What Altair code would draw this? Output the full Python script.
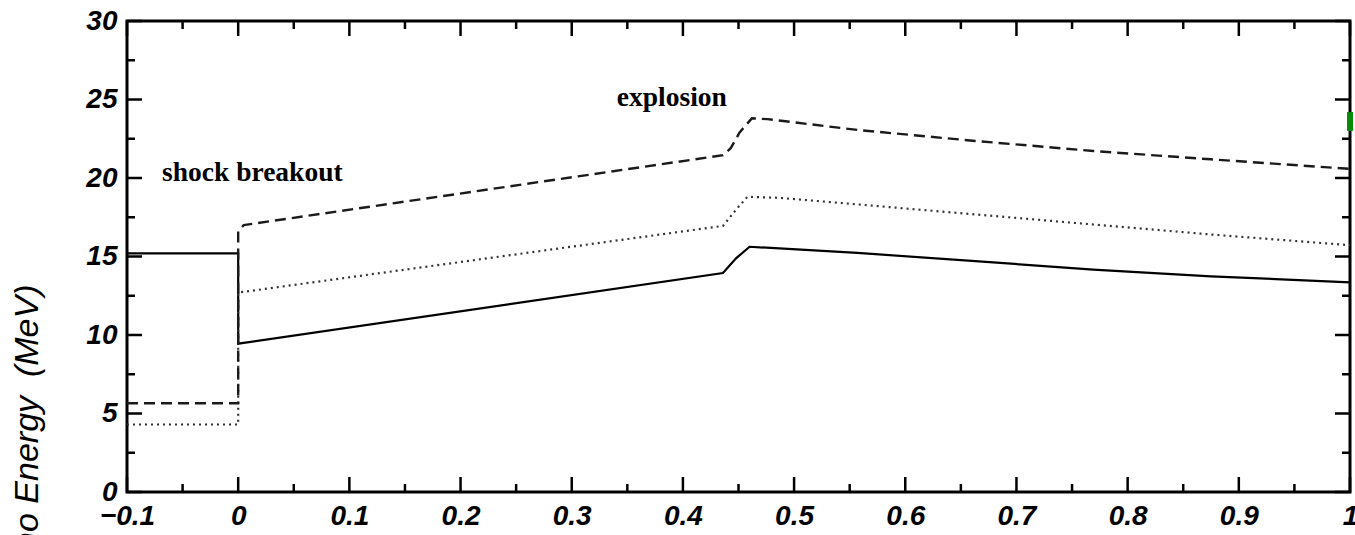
import altair as alt
import pandas as pd

# ---------------- data ----------------
solid_x = [-0.1, 0.0, 0.0, 0.436, 0.448, 0.460, 0.557, 0.663, 0.769, 0.875, 1.0]
solid_y = [15.2, 15.2, 9.45, 13.95, 14.9, 15.62, 15.23, 14.70, 14.17, 13.74, 13.35]

dotted_x = [-0.1, 0.0, 0.0, 0.436, 0.448, 0.458, 0.486, 0.557, 0.663, 0.769, 0.875, 1.0]
dotted_y = [4.3, 4.3, 12.7, 16.95, 18.0, 18.8, 18.74, 18.32, 17.68, 17.04, 16.4, 15.72]

dashed_x = [-0.1, 0.0, 0.0, 0.005, 0.436, 0.443, 0.451, 0.462, 0.476, 0.557, 0.663, 0.769, 0.875, 1.0]
dashed_y = [5.65, 5.65, 16.6, 17.0, 21.45, 21.9, 22.9, 23.8, 23.75, 23.06, 22.36, 21.72, 21.19, 20.58]

x_major = [-0.1, 0.0, 0.1, 0.2, 0.3, 0.4, 0.5, 0.6, 0.7, 0.8, 0.9, 1.0]
x_minor = [-0.05, 0.05, 0.15, 0.25, 0.35, 0.45, 0.55, 0.65, 0.75, 0.85, 0.95]
y_major = [0, 5, 10, 15, 20, 25, 30]
y_minor = [2.5, 7.5, 12.5, 17.5, 22.5, 27.5]

note_text = ["shock breakout", "explosion"]
note_x = [-0.0685, 0.3406]
note_y = [19.8, 24.57]

green_x = [1.0]
green_y = [23.0]
green_y2 = [24.2]

y_title = "Neutrino Energy\u00a0 (MeV)"

# ---------------- layout ----------------
W, H = 1223, 471
PAD = {"left": 127, "top": 21, "right": 5, "bottom": 43}

xs = alt.Scale(domain=[-0.1, 1.0], nice=False, zero=False)
ys = alt.Scale(domain=[0, 30], nice=False, zero=True)


def series(xv, yv):
    return pd.DataFrame({"x": xv, "y": yv, "i": list(range(len(xv)))})


x_axis = alt.Axis(
    values=x_major, domain=False, ticks=False, tickSize=0, grid=False,
    labelFont="Liberation Sans", labelFontSize=28, labelFontWeight="bold",
    labelFontStyle="italic", labelColor="black", labelPadding=10,
    labelFlush=False, labelOverlap=False,
    labelExpr="format(datum.value, '~g')",
    title=None,
)
y_axis = alt.Axis(
    values=y_major, domain=False, ticks=False, tickSize=0, grid=False,
    labelFont="Liberation Sans", labelFontSize=28, labelFontWeight="bold",
    labelFontStyle="italic", labelColor="black", labelPadding=10,
    labelFlush=False, labelOverlap=False,
    title=y_title, titleFont="Liberation Sans", titleFontSize=34,
    titleFontWeight="normal", titleFontStyle="italic", titleColor="black",
    titleAngle=270, titleAlign="right", titleBaseline="middle",
    titleX=-100, titleY=263,
)


def X(field):
    return alt.X(field, scale=xs, axis=x_axis, title=None)


def Y(field):
    return alt.Y(field, scale=ys, axis=y_axis, title=y_title)


solid = alt.Chart(series(solid_x, solid_y)).mark_line(
    color="black", strokeWidth=2.2
).encode(x=X("x:Q"), y=Y("y:Q"), order="i:Q")

dotted = alt.Chart(series(dotted_x, dotted_y)).mark_line(
    color="#333333", strokeWidth=2.2, strokeDash=[2, 4], strokeCap="butt"
).encode(x=X("x:Q"), y=Y("y:Q"), order="i:Q")

dashed = alt.Chart(series(dashed_x, dashed_y)).mark_line(
    color="#1a1a1a", strokeWidth=2.4, strokeDash=[11, 6], strokeCap="butt"
).encode(x=X("x:Q"), y=Y("y:Q"), order="i:Q")


def yticks(vals, x0, x1):
    return alt.Chart(pd.DataFrame({"y": vals})).mark_rule(
        color="black", strokeWidth=2.5
    ).encode(y=Y("y:Q"), x=alt.value(x0), x2=alt.value(x1))


def xticks(vals, y0, y1):
    return alt.Chart(pd.DataFrame({"x": vals})).mark_rule(
        color="black", strokeWidth=2.5
    ).encode(x=X("x:Q"), y=alt.value(y0), y2=alt.value(y1))


tick_layers = [
    yticks(y_major, 0, 15), yticks(y_minor, 0, 8),
    yticks(y_major, W, W - 15), yticks(y_minor, W, W - 8),
    xticks(x_major, 0, 15), xticks(x_minor, 0, 8),
    xticks(x_major, H, H - 15), xticks(x_minor, H, H - 8),
]

notes = alt.Chart(pd.DataFrame({"t": note_text, "x": note_x, "y": note_y})).mark_text(
    font="Liberation Serif", fontSize=27.5, fontWeight="bold", color="black",
    align="left", baseline="alphabetic"
).encode(x=X("x:Q"), y=Y("y:Q"), text="t:N")

green = alt.Chart(pd.DataFrame({"x": green_x, "y": green_y, "y2": green_y2})).mark_rule(
    color="#0a8a0a", strokeWidth=6
).encode(x=X("x:Q"), y=Y("y:Q"), y2="y2:Q")

chart = alt.layer(solid, dotted, dashed, *tick_layers, notes, green).properties(
    width=W, height=H,
    autosize=alt.AutoSizeParams(type="none"),
    padding=PAD,
    background="white",
).configure_view(
    stroke="black", strokeWidth=3
)

chart.save("out.html", embed_options={"renderer": "svg", "actions": False})
